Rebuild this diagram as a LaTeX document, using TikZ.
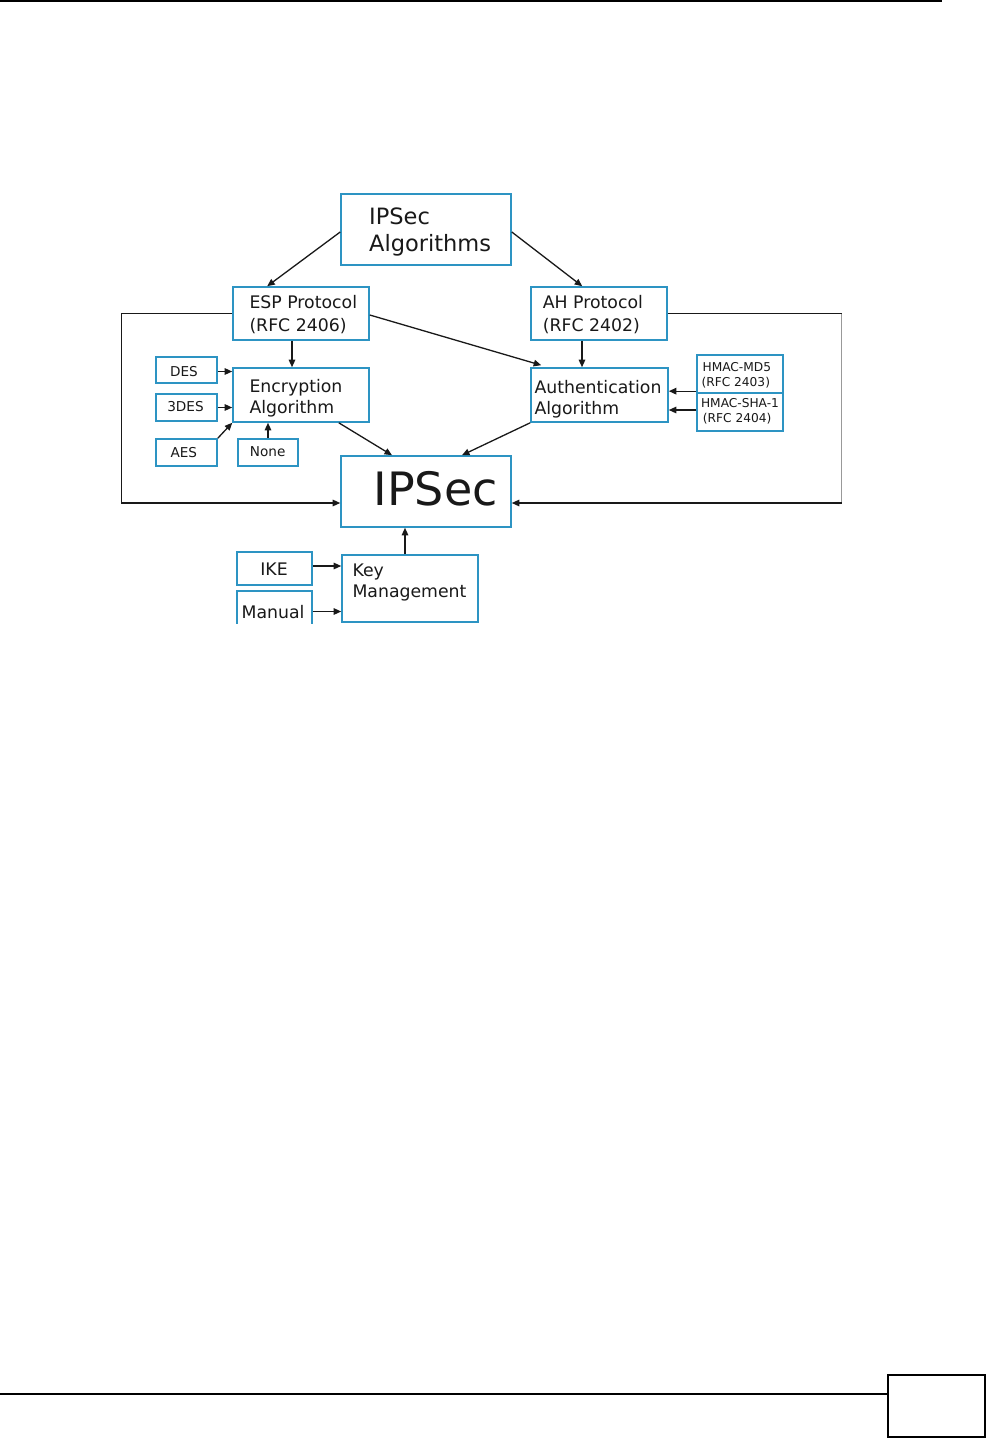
\documentclass[tikz,border=0pt]{standalone}
\usepackage{fontspec}
\setmainfont{DejaVu Sans}
\usetikzlibrary{arrows.meta,calc}
\definecolor{boxblue}{RGB}{45,148,195}
\definecolor{txt}{RGB}{25,25,25}
\tikzset{
  box/.style={draw=boxblue, line width=1.6pt, fill=white, inner sep=0pt, rectangle},
  conn/.style={draw=black!90, line width=1.3pt, -{Triangle[length=7.5pt,width=6.5pt]}},
  plain/.style={draw=black!90, line width=1.3pt},
  greyline/.style={draw=black!40, line width=1.2pt},
  lbl/.style={inner sep=0pt, anchor=base west, text=txt},
  clbl/.style={inner sep=0pt, anchor=base, text=txt},
  big/.style={font=\fontsize{22.5}{26}\selectfont},
  mid/.style={font=\fontsize{17.3}{20}\selectfont},
  sml/.style={font=\fontsize{13.6}{16}\selectfont},
  tiny/.style={font=\fontsize{12.2}{14}\selectfont},
  huge/.style={font=\fontsize{46}{50}\selectfont},
  pageline/.style={draw=black, line width=1.4pt}
}
\begin{document}
\begin{tikzpicture}[x=1pt,y=-1pt]
\useasboundingbox (0,0) rectangle (987,1438);
\fill[white] (0,0) rectangle (987,1438);
% page frame elements
\coordinate (tl) at (0,1);
\coordinate (tr) at (942,1);
\draw[pageline] (tl) -- (tr);
\coordinate (bl) at (0,1394);
\node[draw=black, line width=2pt, minimum width=97pt, minimum height=62pt, inner sep=0pt] (pagebox) at (936.5,1406) {};
\draw[pageline] (bl) -- (pagebox.west |- bl);

% boxes
\node[box, minimum width=170pt, minimum height=71pt] (alg) at (426,229.5) {};
\node[box, minimum width=136pt, minimum height=53pt] (esp) at (301,313.5) {};
\node[box, minimum width=136pt, minimum height=53pt] (ah) at (599,313.5) {};
\node[box, minimum width=136pt, minimum height=54pt] (enc) at (301,395) {};
\node[box, minimum width=137pt, minimum height=54pt] (auth) at (599.5,395) {};
\node[box, minimum width=61pt, minimum height=26pt] (des) at (186.5,370) {};
\node[box, minimum width=61pt, minimum height=27pt] (tdes) at (186.5,407.5) {};
\node[box, minimum width=61pt, minimum height=27pt] (aes) at (186.5,452.5) {};
\node[box, minimum width=60pt, minimum height=27pt] (none) at (268,452.5) {};
\node[box, line width=1.3pt, minimum width=86pt, minimum height=38pt] (md5) at (740,374) {};
\node[box, line width=1.3pt, minimum width=86pt, minimum height=38pt] (sha) at (740,412) {};
\node[box, minimum width=170pt, minimum height=71pt] (ipsec) at (426,491.5) {};
\node[box, minimum width=136pt, minimum height=67pt] (km) at (410,588.5) {};
\node[box, minimum width=75pt, minimum height=33pt] (ike) at (274.5,568.5) {};
\begin{scope}
\clip (225,585) rectangle (325,623.5);
\node[box, minimum width=75pt, minimum height=41pt] (man) at (274.5,611.5) {};
\end{scope}

% texts
\node[lbl,big] (t1) at (369,224.3) {IPSec};
\node[lbl,big] (t2) at (369,251) {Algorithms};
\node[lbl,mid] (t3) at (249.3,308.3) {ESP Protocol};
\node[lbl,mid] (t4) at (249.3,331) {(RFC 2406)};
\node[lbl,mid] (t5) at (542.7,308.3) {AH Protocol};
\node[lbl,mid] (t6) at (542.7,331) {(RFC 2402)};
\node[lbl,mid] (t7) at (249.3,392.7) {Encryption};
\node[lbl,mid] (t8) at (249.3,413.5) {Algorithm};
\node[lbl,mid] (t9) at (534.3,393.3) {Authentication};
\node[lbl,mid] (t10) at (534.3,414) {Algorithm};
\node[clbl,sml] (t11) at (184,376) {DES};
\node[clbl,sml] (t12) at (185.5,411.7) {3DES};
\node[clbl,sml] (t13) at (183.8,457.7) {AES};
\node[clbl,sml] (t14) at (267.7,456.7) {None};
\node[clbl,tiny] (t15) at (736.8,371.7) {HMAC-MD5};
\node[clbl,tiny] (t16) at (735.8,386.5) {(RFC 2403)};
\node[clbl,tiny] (t17) at (740,407.7) {HMAC-SHA-1};
\node[clbl,tiny] (t18) at (737.2,422.7) {(RFC 2404)};
\node[lbl,huge] (t19) at (373.3,505) {IPSec};
\node[lbl,mid] (t20) at (352.3,576.7) {Key};
\node[lbl,mid] (t21) at (352.3,597.3) {Management};
\node[clbl,mid] (t22) at (274,575.7) {IKE};
\node[clbl,mid] (t23) at (273,618.3) {Manual};

% connector end points
\coordinate (desout) at ([yshift=-1.5pt]des.east);
\coordinate (md5out) at ([yshift=2.5pt]md5.south west);
\coordinate (shaout) at ([yshift=2pt]sha.west);
\coordinate (ikeout) at ([yshift=2.5pt]ike.east);
\coordinate (lc) at (121.5,503);
\coordinate (rc) at (841.5,503);

% connectors
\draw[conn] ([yshift=-2.5pt]alg.west) -- ([xshift=35pt]esp.north west);
\draw[conn] ([yshift=-2.5pt]alg.east) -- ([xshift=52pt]ah.north west);
\draw[conn] ([xshift=-9pt]esp.south) -- ([xshift=-9pt]enc.north);
\draw[conn] ([xshift=-17pt]ah.south) -- ([xshift=-17.5pt]auth.north);
\draw[conn] ([yshift=-1.5pt]esp.east) -- ([xshift=11pt,yshift=2pt]auth.north west);
\draw[conn] (desout) -- (enc.west |- desout);
\draw[conn] (tdes.east) -- (enc.west |- tdes.east);
\draw[conn] (aes.north east) -- (enc.south west);
\draw[conn] (none.north) -- (none.north |- enc.south);
\draw[conn] ([xshift=-31pt]enc.south east) -- ([xshift=-34pt]ipsec.north);
\draw[conn] (auth.south west) -- ([xshift=36pt]ipsec.north);
\draw[conn] (md5out) -- (auth.east |- md5out);
\draw[conn] (shaout) -- (auth.east |- shaout);
\draw[conn] (esp.west) -| (lc) -- (ipsec.west |- lc);
\draw[plain] (ah.east) -- (ah.east -| rc);
\draw[greyline] (ah.east -| rc) -- (rc);
\draw[conn] (rc) -- (ipsec.east |- rc);
\draw[conn] ([xshift=-5pt]km.north) -- ([xshift=-21pt]ipsec.south);
\draw[conn] (ikeout) -- (km.west |- ikeout);
\draw[conn] (man.east) -- (km.west |- man.east);
\end{tikzpicture}
\end{document}
